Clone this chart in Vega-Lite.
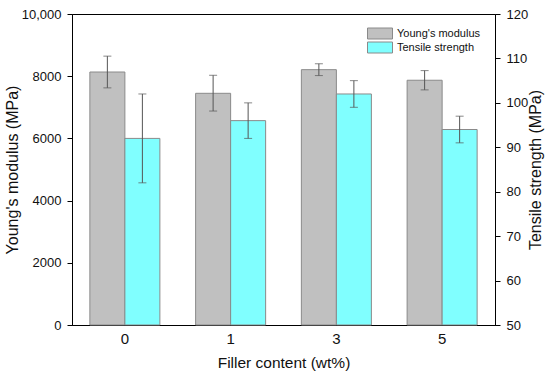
{
  "$schema": "https://vega.github.io/schema/vega-lite/v6.json",
  "autosize": "none",
  "padding": {"left": 72, "top": 14, "right": 55, "bottom": 50},
  "width": 423,
  "height": 311,
  "config": {
    "font": "Liberation Sans",
    "view": {"stroke": "black", "strokeWidth": 1},
    "axis": {
      "domainColor": "black",
      "tickColor": "black",
      "labelColor": "#111111",
      "titleColor": "#111111",
      "labelFontSize": 13,
      "titleFontSize": 16,
      "titleFontWeight": "normal",
      "grid": false
    }
  },
  "data": {
    "values": [
      {"filler": "0", "prop": "Young's modulus", "value": 8135, "lo": 7625, "hi": 8645},
      {"filler": "1", "prop": "Young's modulus", "value": 7450, "lo": 6880, "hi": 8030},
      {"filler": "3", "prop": "Young's modulus", "value": 8210, "lo": 8020, "hi": 8400},
      {"filler": "5", "prop": "Young's modulus", "value": 7870, "lo": 7560, "hi": 8180},
      {"filler": "0", "prop": "Tensile strength", "value": 92, "lo": 82, "hi": 102},
      {"filler": "1", "prop": "Tensile strength", "value": 96, "lo": 92, "hi": 100},
      {"filler": "3", "prop": "Tensile strength", "value": 102, "lo": 99, "hi": 105},
      {"filler": "5", "prop": "Tensile strength", "value": 94, "lo": 91, "hi": 97}
    ]
  },
  "encoding": {
    "x": {
      "field": "filler",
      "type": "nominal",
      "sort": ["0", "1", "3", "5"],
      "scale": {"paddingInner": 0.338, "paddingOuter": 0.169},
      "axis": {
        "title": "Filler content (wt%)",
        "labelAngle": 0,
        "ticks": false,
        "labelFontSize": 15,
        "labelPadding": 6,
        "titleFontSize": 15.5,
        "titlePadding": 9
      }
    },
    "xOffset": {
      "field": "prop",
      "type": "nominal",
      "scale": {"domain": ["Young's modulus", "Tensile strength"], "paddingInner": 0, "paddingOuter": 0}
    }
  },
  "layer": [
    {
      "transform": [{"filter": "datum.prop === \"Young's modulus\""}],
      "layer": [
        {
          "mark": {"type": "bar", "stroke": "#8a8a8a", "strokeWidth": 1},
          "encoding": {
            "y": {
              "field": "value",
              "type": "quantitative",
              "title": "Young's modulus (MPa)",
              "scale": {"domain": [0, 10000], "nice": false},
              "axis": {
                "orient": "left",
                "values": [0, 1000, 2000, 3000, 4000, 5000, 6000, 7000, 8000, 9000, 10000],
                "labelExpr": "datum.value % 2000 === 0 ? (datum.value === 10000 ? '10,000' : format(datum.value, 'd')) : ''",
                "tickSize": {"condition": {"test": "datum.value % 2000 === 0", "value": 5}, "value": 3},
                "labelOverlap": false,
                "labelPadding": 6,
                "titlePadding": 1
              }
            },
            "y2": {"datum": 0},
            "color": {
              "field": "prop",
              "type": "nominal",
              "scale": {"domain": ["Young's modulus", "Tensile strength"], "range": ["#c0c0c0", "#80ffff"]},
              "legend": {
                "title": null,
                "orient": "none",
                "legendX": 295,
                "legendY": 13,
                "padding": 0,
                "labelFontSize": 11,
                "labelColor": "#111111",
                "labelOffset": 4,
                "symbolType": "M-1,-0.44H1V0.44H-1Z",
                "symbolSize": 625,
                "symbolStrokeColor": "#8a8a8a",
                "symbolStrokeWidth": 1,
                "symbolOpacity": 1,
                "clipHeight": 13,
                "rowPadding": 1
              }
            }
          }
        },
        {
          "mark": {"type": "rule", "color": "#555555", "strokeWidth": 1},
          "encoding": {
            "y": {"field": "lo", "type": "quantitative", "title": "Young's modulus (MPa)"},
            "y2": {"field": "hi"}
          }
        },
        {
          "mark": {"type": "tick", "color": "#555555", "thickness": 1, "size": 8},
          "encoding": {"y": {"field": "lo", "type": "quantitative", "title": "Young's modulus (MPa)"}}
        },
        {
          "mark": {"type": "tick", "color": "#555555", "thickness": 1, "size": 8},
          "encoding": {"y": {"field": "hi", "type": "quantitative", "title": "Young's modulus (MPa)"}}
        }
      ]
    },
    {
      "transform": [{"filter": "datum.prop === 'Tensile strength'"}],
      "layer": [
        {
          "mark": {"type": "bar", "stroke": "#8a8a8a", "strokeWidth": 1},
          "encoding": {
            "y": {
              "field": "value",
              "type": "quantitative",
              "title": "Tensile strength (MPa)",
              "scale": {"domain": [50, 120], "nice": false, "zero": false},
              "axis": {
                "orient": "right",
                "values": [50, 55, 60, 65, 70, 75, 80, 85, 90, 95, 100, 105, 110, 115, 120],
                "labelExpr": "datum.value % 10 === 0 ? format(datum.value, 'd') : ''",
                "tickSize": {"condition": {"test": "datum.value % 10 === 0", "value": 5}, "value": 3},
                "labelOverlap": false,
                "labelPadding": 6,
                "titleAngle": 270,
                "titlePadding": 16
              }
            },
            "y2": {"datum": 50},
            "color": {"field": "prop", "type": "nominal"}
          }
        },
        {
          "mark": {"type": "rule", "color": "#555555", "strokeWidth": 1},
          "encoding": {
            "y": {"field": "lo", "type": "quantitative", "title": "Tensile strength (MPa)"},
            "y2": {"field": "hi"}
          }
        },
        {
          "mark": {"type": "tick", "color": "#555555", "thickness": 1, "size": 8},
          "encoding": {"y": {"field": "lo", "type": "quantitative", "title": "Tensile strength (MPa)"}}
        },
        {
          "mark": {"type": "tick", "color": "#555555", "thickness": 1, "size": 8},
          "encoding": {"y": {"field": "hi", "type": "quantitative", "title": "Tensile strength (MPa)"}}
        }
      ]
    }
  ],
  "resolve": {"scale": {"y": "independent"}}
}
